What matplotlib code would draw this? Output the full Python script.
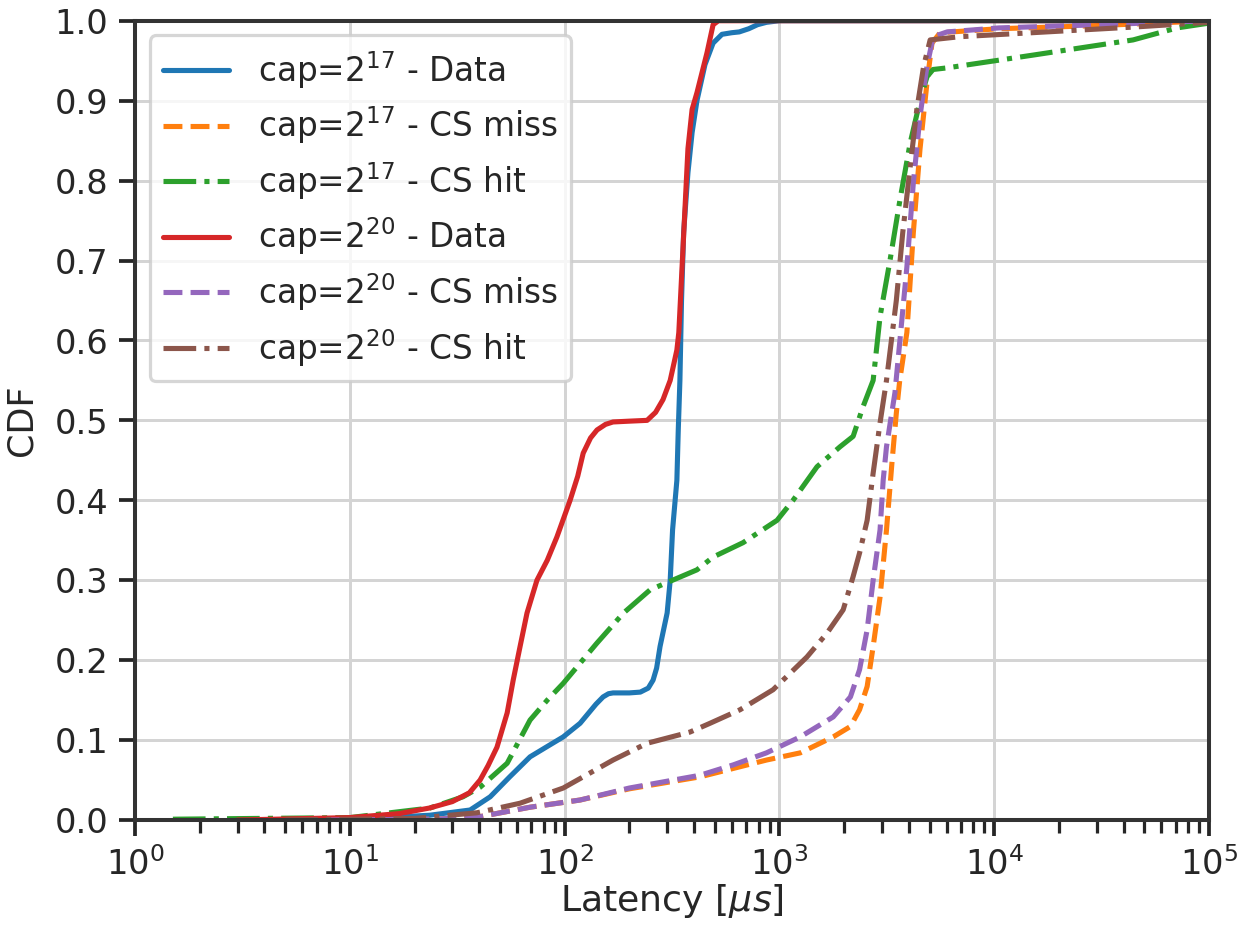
import matplotlib
matplotlib.use("Agg")
import matplotlib.pyplot as plt
import seaborn as sns

# latency [us] / CDF pairs
data17_x = [10, 23.6, 36.3, 45, 55.5, 69, 83, 98.5, 118, 140, 151, 160, 168, 200, 225, 245,
            258, 268, 278, 300, 310, 318, 333, 338, 344, 350, 358, 375, 392, 413, 450, 491,
            540, 600, 650, 720, 790, 870, 1000, 100000]
data17_y = [0.0005, 0.006, 0.0125, 0.029, 0.054, 0.079, 0.092, 0.104, 0.121, 0.145, 0.154,
            0.158, 0.159, 0.159, 0.160, 0.165, 0.175, 0.19, 0.217, 0.259, 0.30, 0.363,
            0.425, 0.488, 0.55, 0.65, 0.735, 0.81, 0.86, 0.90, 0.945, 0.972, 0.983, 0.985,
            0.986, 0.99, 0.995, 0.998, 1.0, 1.0]

miss17_x = [8, 25, 40, 69, 118, 200, 427, 870, 1250, 1780, 2140, 2360, 2560, 2730, 2940,
            3150, 3340, 3500, 3630, 3920, 4200, 4510, 4860, 5130, 5600, 10500, 31000, 100000]
miss17_y = [0.0, 0.001, 0.004, 0.016, 0.025, 0.039, 0.054, 0.075, 0.084, 0.104, 0.117,
            0.138, 0.167, 0.217, 0.279, 0.363, 0.447, 0.509, 0.55, 0.61, 0.735, 0.839,
            0.922, 0.972, 0.985, 0.99, 0.994, 1.0]

hit17_x = [1.5, 10, 23.6, 33.6, 40.4, 54, 69, 83, 98.5, 141, 188, 250, 318, 413, 491, 677,
           975, 1157, 1496, 1915, 2203, 2449, 2730, 2940, 3270, 3640, 4060, 4515, 4865,
           5190, 6030, 15160, 44300, 71000, 100000]
hit17_y = [0.001, 0.003, 0.015, 0.029, 0.041, 0.071, 0.125, 0.15, 0.171, 0.221, 0.259,
           0.288, 0.30, 0.313, 0.329, 0.347, 0.375, 0.40, 0.442, 0.467, 0.48, 0.517, 0.55,
           0.63, 0.70, 0.776, 0.847, 0.90, 0.93, 0.939, 0.941, 0.957, 0.976, 0.991, 0.997]

data20_x = [3, 10, 17, 23.5, 30, 36, 40.4, 44, 48.4, 54, 57.6, 62, 66.8, 74.3, 83, 92, 106,
            115, 122, 132, 141.5, 155, 168, 200, 242, 265, 287, 310, 333, 340, 375, 392, 413,
            460, 491, 520, 100000]
data20_y = [0.0, 0.003, 0.008, 0.015, 0.023, 0.034, 0.05, 0.068, 0.091, 0.134, 0.175,
            0.217, 0.259, 0.30, 0.325, 0.354, 0.40, 0.43, 0.459, 0.478, 0.488, 0.495, 0.498,
            0.499, 0.50, 0.51, 0.526, 0.55, 0.588, 0.61, 0.84, 0.889, 0.91, 0.96, 0.995,
            1.0, 1.0]

miss20_x = [8, 25, 40, 69, 118, 200, 427, 610, 870, 1250, 1780, 2140, 2360, 2560, 2730,
            2940, 3040, 3150, 3450, 3920, 4200, 4510, 4860, 5200, 6030, 10500, 31000, 100000]
miss20_y = [0.0, 0.001, 0.004, 0.016, 0.025, 0.04, 0.056, 0.069, 0.084, 0.104, 0.129,
            0.154, 0.188, 0.238, 0.30, 0.363, 0.425, 0.467, 0.535, 0.692, 0.797, 0.88,
            0.943, 0.98, 0.986, 0.991, 0.995, 1.0]

hit20_x = [5, 20, 39, 62, 98.5, 168, 242, 383, 475, 656, 934, 1343, 1667, 1980, 2200, 2360,
           2560, 2730, 2940, 3150, 3500, 3750, 4060, 4360, 4690, 5030, 6900, 15000, 44000,
           100000]
hit20_y = [0.0, 0.002, 0.009, 0.021, 0.04, 0.075, 0.096, 0.11, 0.121, 0.138, 0.163, 0.204,
           0.234, 0.263, 0.304, 0.334, 0.375, 0.434, 0.497, 0.55, 0.65, 0.735, 0.817,
           0.889, 0.943, 0.976, 0.98, 0.985, 0.992, 0.998]

series = [
    (r"cap=$2^{17}$ - Data", data17_x, data17_y, "-", "#1f77b4"),
    (r"cap=$2^{17}$ - CS miss", miss17_x, miss17_y, "--", "#ff7f0e"),
    (r"cap=$2^{17}$ - CS hit", hit17_x, hit17_y, "-.", "#2ca02c"),
    (r"cap=$2^{20}$ - Data", data20_x, data20_y, "-", "#d62728"),
    (r"cap=$2^{20}$ - CS miss", miss20_x, miss20_y, "--", "#9467bd"),
    (r"cap=$2^{20}$ - CS hit", hit20_x, hit20_y, "-.", "#8c564b"),
]

sns.set_style("whitegrid")
plt.rcParams.update({
    "font.family": ["DejaVu Sans"],
    "mathtext.fontset": "dejavusans",
    "text.color": ".15",
    "axes.labelcolor": ".15",
    "axes.edgecolor": ".15",
    "xtick.color": ".15",
    "ytick.color": ".15",
    "grid.color": ".83",
})

fig = plt.figure(figsize=(6.4, 4.8), dpi=193.6)
ax = fig.add_axes([0.109, 0.1173, 0.8668, 0.8601])

for label, xs, ys, ls, color in series:
    ax.plot(xs, ys, ls, color=color, lw=1.9, label=label)

ax.set_xscale("log")
ax.set_xlim(1, 1e5)
ax.set_ylim(0, 1)
ax.set_yticks([i / 10 for i in range(11)])
ax.grid(True, which="major", lw=1.1)
ax.grid(False, which="minor")

for side in ax.spines.values():
    side.set_linewidth(1.5)
    side.set_color(".2")

ax.tick_params(axis="both", which="major", direction="out", length=6, width=1.4,
               labelsize=12.5, bottom=True, left=True, pad=4)
ax.tick_params(axis="x", which="minor", direction="out", length=4.8, width=1.2,
               bottom=True)

ax.set_xlabel(r"Latency [$\mu s$]", fontsize=13.5, labelpad=0)
ax.set_ylabel("CDF", fontsize=13, labelpad=6)

leg = ax.legend(loc="upper left", fontsize=12.2, framealpha=0.8, edgecolor=".8",
                handlelength=2.0, handletextpad=0.9, borderpad=0.4, labelspacing=0.42,
                borderaxespad=0.45)
leg.get_frame().set_linewidth(1.2)

fig.savefig("out.png", dpi=193.6, facecolor="white")
